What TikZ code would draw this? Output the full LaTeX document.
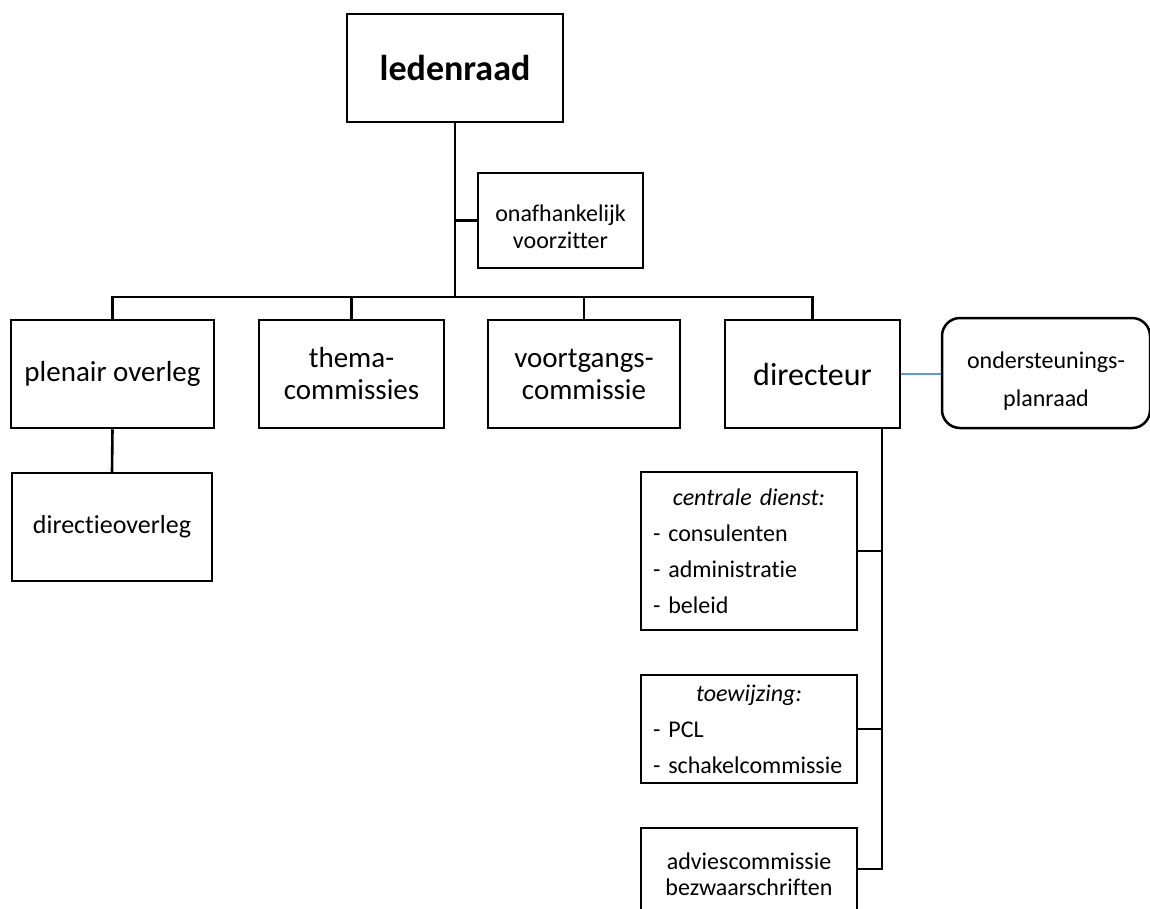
\documentclass[tikz,border=0pt]{standalone}
\usepackage{fontspec}
\setmainfont{Carlito}[Ligatures={NoCommon}]
\definecolor{linkblue}{RGB}{91,155,213}
\tikzset{
  bx/.style={draw, line width=2.5pt, inner sep=0pt, align=center, rectangle},
  conn/.style={line width=2.6pt},
  thin/.style={draw=linkblue, line width=1.3pt},
  fs/.style n args={2}{font=\fontsize{#1pt}{#2pt}\selectfont}
}
\begin{document}
\begin{tikzpicture}[x=1pt,y=-1pt]
\clip (0,0) rectangle (1150,908);
\fill[white] (0,0) rectangle (1150,908);

\node[bx, minimum width=216pt, minimum height=108pt, font=\fontsize{36pt}{40pt}\selectfont\bfseries] (led) at (455,68) {ledenraad};
\node[bx, minimum width=165pt, minimum height=95pt, fs={24}{27}] (onaf) at (560.5,220.5) {\rule{0pt}{29pt}onafhankelijk\\voorzitter};

\node[bx, minimum width=203pt, minimum height=108pt, fs={29}{32}] (plen) at (112.5,374) {plenair overleg};
\node[bx, minimum width=185pt, minimum height=108pt, fs={29}{32}] (them) at (351.5,374) {thema-\\commissies};
\node[bx, minimum width=192pt, minimum height=108pt, fs={29}{32}] (voort) at (584,374) {voortgangs-\\commissie};
\node[bx, minimum width=175pt, minimum height=108pt, fs={32}{36}] (dir) at (812.5,374) {directeur};
\node[bx, rounded corners=18pt, minimum width=208pt, minimum height=110pt, fs={24}{38}] (onder) at (1046,373) {\rule{0pt}{33pt}ondersteunings-\\planraad};

\node[bx, minimum width=200pt, minimum height=108pt, fs={26}{30}] (dirov) at (112,527) {directieoverleg};

\node[bx, minimum width=216pt, minimum height=158pt, text width=192pt, align=left, fs={24}{36}] (cent) at (749,551)
  {\makebox[192pt][c]{\itshape centrale dienst:}\\- consulenten\\- administratie\\- beleid};
\node[bx, minimum width=216pt, minimum height=108pt, text width=192pt, align=left, fs={24}{36}] (toew) at (749,729)
  {\makebox[192pt][c]{\itshape toewijzing:}\\- PCL\\- schakelcommissie};
\node[bx, minimum width=216pt, minimum height=93pt, fs={24}{26}] (adv) at (749,874.5) {adviescommissie\\bezwaarschriften};

\coordinate (busM) at (455,297);
\coordinate (spine) at (882,428);

\draw[conn] (led.south) -- (busM);
\draw[conn] (onaf.west) -- (onaf.west -| busM);
\draw[conn] (plen.north) |- (busM) -| (dir.north);
\draw[conn] (them.north) -- (them.north |- busM);
\draw[conn] (voort.north) -- (voort.north |- busM);
\draw[conn] (plen.south) -- (dirov.north);
\draw[thin] (dir.east) -- (dir.east -| onder.west);
\draw[conn] (dir.south -| spine) |- ([yshift=5.5pt]adv.east);
\draw[conn] (cent.east) -- (cent.east -| spine);
\draw[conn] (toew.east) -- (toew.east -| spine);
\end{tikzpicture}
\end{document}
